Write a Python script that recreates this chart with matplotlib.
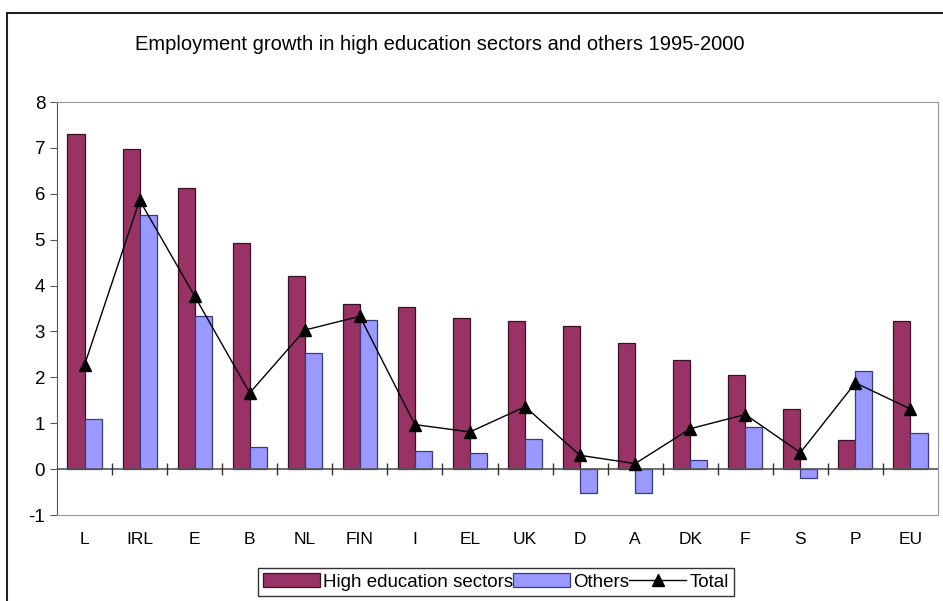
import matplotlib.pyplot as plt
import matplotlib.patches as patches
import numpy as np

plt.rcParams['font.family'] = ['Liberation Sans', 'DejaVu Sans']
plt.rcParams['axes.unicode_minus'] = False

# data
countries = ['L', 'IRL', 'E', 'B', 'NL', 'FIN', 'I', 'EL', 'UK', 'D', 'A', 'DK', 'F', 'S', 'P', 'EU']
high_edu = [7.30, 6.98, 6.12, 4.92, 4.20, 3.59, 3.54, 3.30, 3.22, 3.12, 2.75, 2.37, 2.05, 1.30, 0.63, 3.22]
others = [1.09, 5.53, 3.34, 0.49, 2.53, 3.26, 0.39, 0.35, 0.66, -0.51, -0.53, 0.19, 0.92, -0.19, 2.14, 0.79]
total = [2.27, 5.86, 3.77, 1.66, 3.03, 3.33, 0.97, 0.81, 1.36, 0.30, 0.12, 0.88, 1.19, 0.36, 1.88, 1.31]

x = np.arange(len(countries))
w = 0.31

fig = plt.figure(figsize=(9.43, 6.01), dpi=100)
ax = fig.add_axes([57/943, 86/601, 881/943, 413/601])

# outer chart frame
fig.patches.append(patches.Rectangle((7/943, -0.1), 1.2, (601 - 13)/601 + 0.1,
                                     transform=fig.transFigure, fill=False,
                                     edgecolor='#222222', linewidth=1.5))

b1 = ax.bar(x - w/2, high_edu, w, color='#993366', edgecolor='#3a1025', linewidth=0.9,
            label='High education sectors', zorder=2)
b2 = ax.bar(x + w/2, others, w, color='#9999ff', edgecolor='#3a3a80', linewidth=0.9,
            label='Others', zorder=2)
ln, = ax.plot(x, total, color='black', linewidth=1, marker='^', markersize=9,
              label='Total', zorder=4)

# zero line with ticks between categories
ax.axhline(0, color='#555555', linewidth=1.2, zorder=3)
ax.plot(x[:-1] + 0.5, np.zeros(len(x) - 1), linestyle='none', marker='|',
        markersize=8, color='#333333', zorder=3)

ax.set_xlim(-0.5, len(x) - 0.5)
ax.set_ylim(-1, 8)
ax.set_yticks(range(-1, 9))
ax.set_xticks(x)
ax.set_xticklabels(countries)
ax.tick_params(axis='x', length=0, pad=12, labelsize=12.5)
ax.tick_params(axis='y', length=5, labelsize=13.5, direction='out', color='#555555')

for s in ['top', 'right', 'bottom']:
    ax.spines[s].set_color('#999999')
ax.spines['left'].set_color('#555555')

fig.text(440/943, 1 - 45/601, 'Employment growth in high education sectors and others 1995-2000',
         ha='center', va='center', fontsize=14.5)

leg = fig.legend(handles=[b1, b2, ln], loc='center', bbox_to_anchor=(496/943, 1 - 582/601),
                 ncol=3, fontsize=13.5, frameon=True, fancybox=False, edgecolor='black',
                 handlelength=3.0, handletextpad=0.2, columnspacing=0.0, borderpad=0.3)
leg.get_frame().set_linewidth(1)

fig.savefig('out.png', dpi=100)
